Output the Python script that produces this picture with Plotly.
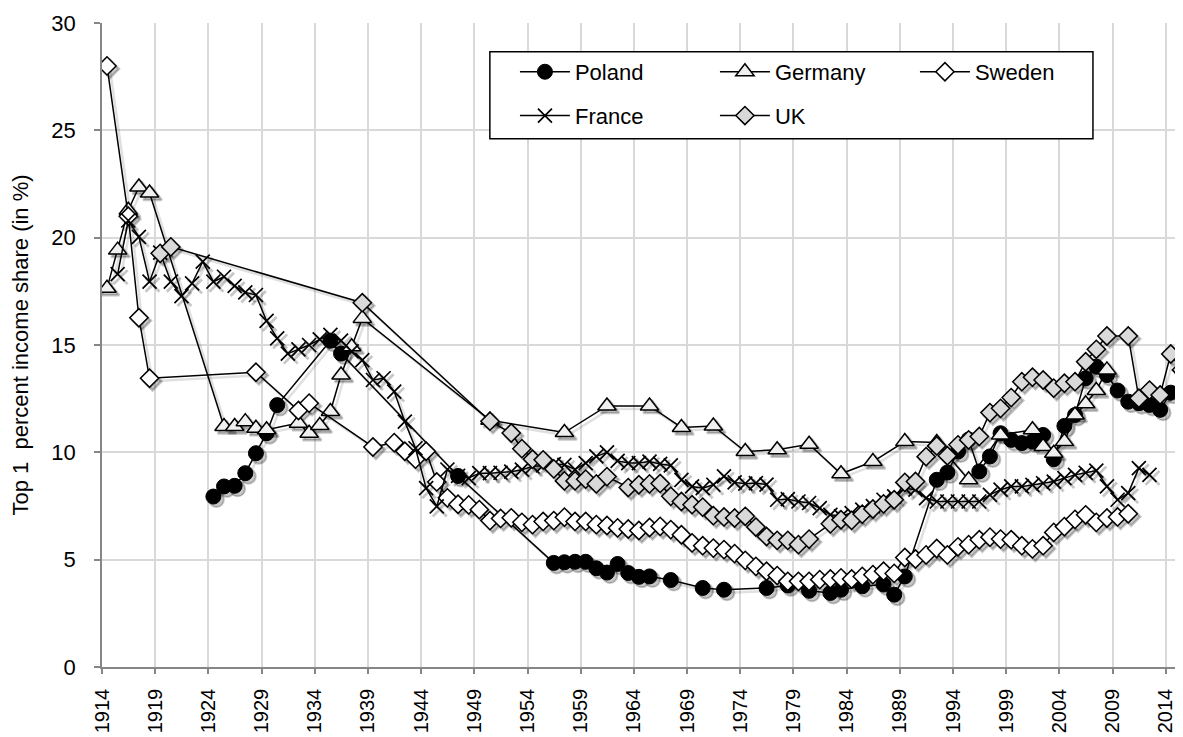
import plotly.graph_objects as go

# ---------------- data ----------------
poland_years = [1924, 1925, 1926, 1927, 1928, 1929, 1930, 1935, 1936, 1947,
                1956, 1957, 1958, 1959, 1960, 1961, 1962, 1963, 1964, 1965,
                1967, 1970, 1972, 1976, 1978, 1980, 1982, 1983, 1985, 1987,
                1988, 1989, 1992, 1993, 1994, 1995, 1996, 1997, 1998, 1999,
                2000, 2001, 2002, 2003, 2004, 2005, 2006, 2007, 2008, 2009,
                2010, 2011, 2012, 2013, 2014]
poland_values = [7.94, 8.41, 8.44, 9.03, 9.96, 10.89, 12.2, 15.2, 14.6, 8.9,
                 4.85, 4.88, 4.9, 4.9, 4.6, 4.4, 4.8, 4.38, 4.2, 4.22,
                 4.05, 3.68, 3.6, 3.68, 3.8, 3.55, 3.45, 3.6, 3.76, 3.84,
                 3.37, 4.22, 8.72, 9.06, 10.04, 10.6, 9.11, 9.81, 10.89, 10.58,
                 10.43, 10.5, 10.81, 9.68, 11.23, 11.74, 13.45, 13.99, 13.6, 12.88,
                 12.36, 12.29, 12.21, 11.98, 12.78]

germany_years = [1914, 1915, 1916, 1917, 1918, 1925, 1926, 1927, 1928, 1929,
                 1932, 1933, 1934, 1935, 1936, 1937, 1938, 1950, 1957, 1961,
                 1965, 1968, 1971, 1974, 1977, 1980, 1983, 1986, 1989, 1992,
                 1995, 1998, 2001, 2002, 2003, 2004, 2005, 2006, 2007, 2008]
germany_values = [17.64, 19.42, 21.28, 22.36, 22.08, 11.2, 11.2, 11.43, 11.12, 11.05,
                  11.36, 10.89, 11.25, 11.9, 13.6, 14.92, 16.24, 11.5, 10.92, 12.16,
                  12.16, 11.16, 11.23, 10.04, 10.12, 10.38, 9.0, 9.57, 10.5, 10.46,
                  8.72, 10.81, 11.05, 10.27, 9.96, 10.5, 11.74, 12.26, 12.88, 13.84]

sweden_years = [1914, 1916, 1917, 1918, 1928, 1932, 1933, 1939, 1941, 1942,
                1943, 1944, 1945, 1946, 1947, 1948, 1949, 1950, 1951, 1952,
                1953, 1954, 1955, 1956, 1957, 1958, 1959, 1960, 1961, 1962,
                1963, 1964, 1965, 1966, 1967, 1968, 1969, 1970, 1971, 1972,
                1973, 1974, 1975, 1976, 1977, 1978, 1979, 1980, 1981, 1982,
                1983, 1984, 1985, 1986, 1987, 1988, 1989, 1990, 1991, 1992,
                1993, 1994, 1995, 1996, 1997, 1998, 1999, 2000, 2001, 2002,
                2003, 2004, 2005, 2006, 2007, 2008, 2009, 2010]
sweden_values = [28.0, 21.0, 16.27, 13.45, 13.73, 11.95, 12.29, 10.25, 10.45, 10.05,
                 9.68, 10.05, 8.62, 7.88, 7.58, 7.55, 7.33, 6.82, 6.92, 6.95,
                 6.74, 6.63, 6.78, 6.82, 6.98, 6.78, 6.78, 6.63, 6.59, 6.48,
                 6.43, 6.36, 6.5, 6.55, 6.4, 6.16, 5.78, 5.65, 5.54, 5.47,
                 5.28, 4.97, 4.69, 4.46, 4.26, 3.99, 3.99, 3.99, 4.07, 4.1,
                 4.15, 4.1, 4.22, 4.3, 4.46, 4.36, 5.1, 5.03, 5.22, 5.52,
                 5.22, 5.6, 5.7, 5.93, 6.05, 5.96, 5.93, 5.65, 5.5, 5.65,
                 6.27, 6.54, 6.88, 7.09, 6.74, 6.94, 6.99, 7.14]

france_years = list(range(1915, 2013))
france_values = [18.3, 20.8, 20.04, 17.95, 19.3, 17.95, 17.28, 17.87, 18.88, 17.95,
                 18.18, 17.75, 17.45, 17.33, 16.12, 15.31, 14.6, 14.8, 15.0, 15.26,
                 15.47, 15.2, 14.7, 14.3, 13.37, 13.45, 12.83, 11.43, 10.19, 8.33,
                 7.48, 9.2, 8.9, 8.8, 9.03, 9.03, 9.05, 9.1, 9.19, 9.34,
                 9.39, 9.45, 9.42, 9.2, 9.5, 9.81, 10.0, 9.6, 9.5, 9.5,
                 9.57, 9.46, 9.39, 8.72, 8.41, 8.33, 8.49, 8.88, 8.6, 8.54,
                 8.57, 8.5, 7.79, 7.82, 7.71, 7.64, 7.4, 7.09, 7.02, 7.17,
                 7.33, 7.49, 7.79, 7.95, 8.33, 8.26, 7.87, 7.71, 7.71, 7.71,
                 7.71, 7.71, 8.02, 8.26, 8.41, 8.41, 8.48, 8.56, 8.64, 8.8,
                 8.95, 9.05, 9.15, 8.41, 7.79, 8.1, 9.26, 8.95]

uk_years = [1919, 1920, 1938, 1950, 1952, 1953, 1954, 1955, 1956, 1957,
            1958, 1959, 1960, 1961, 1963, 1964, 1965, 1966, 1967, 1968,
            1969, 1970, 1971, 1972, 1973, 1974, 1975, 1976, 1977, 1978,
            1979, 1980, 1982, 1983, 1984, 1985, 1986, 1987, 1988, 1989,
            1990, 1991, 1992, 1993, 1994, 1995, 1996, 1997, 1998, 1999,
            2000, 2001, 2002, 2003, 2004, 2005, 2006, 2007, 2008, 2010,
            2011, 2012, 2013, 2014, 2015]
uk_values = [19.27, 19.57, 16.97, 11.45, 10.9, 10.17, 9.68, 9.65, 9.23, 8.67,
             8.67, 8.75, 8.53, 8.87, 8.36, 8.49, 8.53, 8.55, 7.95, 7.71,
             7.56, 7.45, 7.05, 6.99, 6.94, 7.02, 6.52, 6.08, 5.9, 5.9,
             5.7, 5.96, 6.67, 6.86, 6.83, 7.12, 7.36, 7.6, 7.79, 8.6,
             8.64, 9.8, 10.3, 9.84, 10.35, 10.58, 10.74, 11.85, 12.05, 12.55,
             13.29, 13.5, 13.37, 12.99, 13.22, 13.29, 14.22, 14.8, 15.42, 15.42,
             12.52, 12.9, 12.67, 14.58, 13.84]

tick_years = list(range(1914, 2015, 5))
y_ticks = [0, 5, 10, 15, 20, 25, 30]

# ---------------- styling ----------------
FONT = "Liberation Sans, Arial, sans-serif"
X_RANGE = [1913.53, 2015.15]
Y_RANGE = [0, 30]
SHADOW_DX = 0.28   # years  (~3 px to the right)
SHADOW_DY = 0.14   # percent (~3 px downward)

series = [
    ("Poland", poland_years, poland_values,
     dict(symbol="circle", size=15, color="black", line=dict(color="black", width=1)),
     "legend"),
    ("Germany", germany_years, germany_values,
     dict(symbol="triangle-up", size=16, color="#f0f0f0", line=dict(color="black", width=1.5)),
     "legend"),
    ("Sweden", sweden_years, sweden_values,
     dict(symbol="diamond", size=14, color="white", line=dict(color="black", width=1.5)),
     "legend"),
    ("France", france_years, france_values,
     dict(symbol="x-thin", size=14, color="black", line=dict(color="black", width=1.7)),
     "legend2"),
    ("UK", uk_years, uk_values,
     dict(symbol="diamond", size=14, color="#d9d9d9", line=dict(color="black", width=1.5)),
     "legend2"),
]

fig = go.Figure()

# soft drop shadows (drawn on a hidden, slightly offset axis pair underneath)
for name, xs, ys, mk, _ in series:
    sh = dict(mk)
    sh["color"] = "rgba(0,0,0,0.22)"
    sh["line"] = dict(color="rgba(0,0,0,0.22)", width=mk["line"]["width"] + 1)
    fig.add_trace(go.Scatter(
        x=xs, y=ys, mode="lines+markers", showlegend=False, hoverinfo="skip",
        line=dict(color="rgba(0,0,0,0.12)", width=2.5), marker=sh,
        xaxis="x", yaxis="y"))

# the visible series
for name, xs, ys, mk, lg in series:
    fig.add_trace(go.Scatter(
        x=xs, y=ys, name=name, mode="lines+markers",
        line=dict(color="black", width=1.5), marker=mk,
        xaxis="x2", yaxis="y2", legend=lg))

axis_common = dict(
    showgrid=True, gridcolor="#d9d9d9", gridwidth=1.5,
    showline=True, linecolor="#868686", linewidth=1.5,
    ticks="outside", tickcolor="#868686", tickwidth=1.5,
    zeroline=False, automargin=False,
)

legend_common = dict(
    orientation="h", xanchor="left", yanchor="middle",
    bgcolor="rgba(0,0,0,0)", borderwidth=0,
    font=dict(family=FONT, size=22, color="black"),
    entrywidth=135, entrywidthmode="pixels", itemwidth=50,
)

fig.update_layout(
    width=1175, height=729,
    margin=dict(l=94, r=0, t=15, b=70),
    paper_bgcolor="white", plot_bgcolor="white",
    font=dict(family=FONT, color="black"),
    # hidden axes carrying the shadows
    xaxis=dict(range=[X_RANGE[0] - SHADOW_DX, X_RANGE[1] - SHADOW_DX],
               visible=False, showgrid=False, zeroline=False),
    yaxis=dict(range=[Y_RANGE[0] + SHADOW_DY, Y_RANGE[1] + SHADOW_DY],
               visible=False, showgrid=False, zeroline=False),
    # visible axes
    xaxis2=dict(
        **axis_common, overlaying="x", anchor="y2", side="bottom",
        range=X_RANGE,
        tickmode="array",
        tickvals=[y - 0.47 for y in tick_years],
        ticktext=[str(y) for y in tick_years],
        tickangle=-90, ticklen=5, ticklabelstandoff=7,
        tickfont=dict(family=FONT, size=20, color="black"),
    ),
    yaxis2=dict(
        **axis_common, overlaying="y", anchor="x2", side="left",
        range=Y_RANGE, tickmode="array", tickvals=y_ticks,
        ticklen=6, ticklabelstandoff=14,
        tickfont=dict(family=FONT, size=22, color="black"),
        title=dict(text="Top 1  percent income share (in %)",
                   font=dict(family=FONT, size=22, color="black"), standoff=18),
    ),
    legend=dict(**legend_common, x=0.382, y=0.924),
    legend2=dict(**legend_common, x=0.382, y=0.856),
    shapes=[dict(type="rect", xref="paper", yref="paper",
                 x0=0.3588, x1=0.9167, y0=0.8204, y1=0.9555,
                 line=dict(color="black", width=1.5), fillcolor="white",
                 layer="above")],
    showlegend=True,
)

fig.write_html("out.html")
